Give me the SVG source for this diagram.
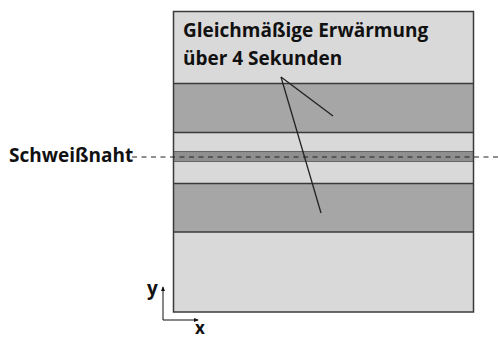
<svg xmlns="http://www.w3.org/2000/svg" width="498" height="340" viewBox="0 0 498 340">
<style>
.light{fill:#d9d9d9}
.dark{fill:#a6a6a6}
.seam{fill:#8f8f8f}
.edge{stroke:#3a3a3a;stroke-width:1.5;fill:none}
.thin{stroke:#666;stroke-width:1;fill:none}
.lbl{font-family:"Open Sans","Liberation Sans",sans-serif;font-weight:bold;fill:#111}
.lead{stroke:#222;stroke-width:1.3;fill:none}
</style>
<defs>
<marker id="ah" viewBox="0 0 6 6" refX="5" refY="3" markerWidth="5" markerHeight="5" orient="auto">
<path d="M0,0.5 L6,3 L0,5.5 z" fill="#111"/>
</marker>
</defs>
<g id="plate">
<rect class="light" x="173.5" y="11.5" width="300" height="300.5"/>
<rect class="dark" x="173.5" y="83.5" width="300" height="49"/>
<rect class="seam" x="173.5" y="151.5" width="300" height="10"/>
<rect class="dark" x="173.5" y="183.5" width="300" height="48.5"/>
<line class="edge" x1="173.5" y1="83.5" x2="473.5" y2="83.5"/>
<line class="edge" x1="173.5" y1="132.5" x2="473.5" y2="132.5"/>
<line class="thin" x1="173.5" y1="151.5" x2="473.5" y2="151.5"/>
<line class="thin" x1="173.5" y1="161.5" x2="473.5" y2="161.5"/>
<line class="edge" x1="173.5" y1="183.5" x2="473.5" y2="183.5"/>
<line class="edge" x1="173.5" y1="232" x2="473.5" y2="232"/>
<rect class="edge" x="173.5" y="11.5" width="300" height="300.5"/>
</g>
<g id="label-heating">
<text class="lbl" x="183" y="37" font-size="19">Gleichmäßige Erwärmung</text>
<text class="lbl" x="183" y="65" font-size="19">über 4 Sekunden</text>
</g>
<g id="label-seam">
<text class="lbl" x="9" y="162" font-size="19">Schweißnaht</text>
</g>
<g id="axes">
<text class="lbl" x="147" y="295" font-size="19">y</text>
<text class="lbl" x="195" y="334" font-size="17">x</text>
</g>
<g id="connectors">
<line x1="132" y1="157" x2="498" y2="157" stroke="#222" stroke-width="1" stroke-dasharray="5,4.5"/>
<line class="lead" x1="281" y1="77" x2="333" y2="116"/>
<line class="lead" x1="281" y1="77" x2="321" y2="213"/>
<line x1="163" y1="320" x2="163" y2="287" stroke="#111" stroke-width="1" marker-end="url(#ah)"/>
<line x1="163" y1="320" x2="198" y2="320" stroke="#111" stroke-width="1" marker-end="url(#ah)"/>
</g>
</svg>
